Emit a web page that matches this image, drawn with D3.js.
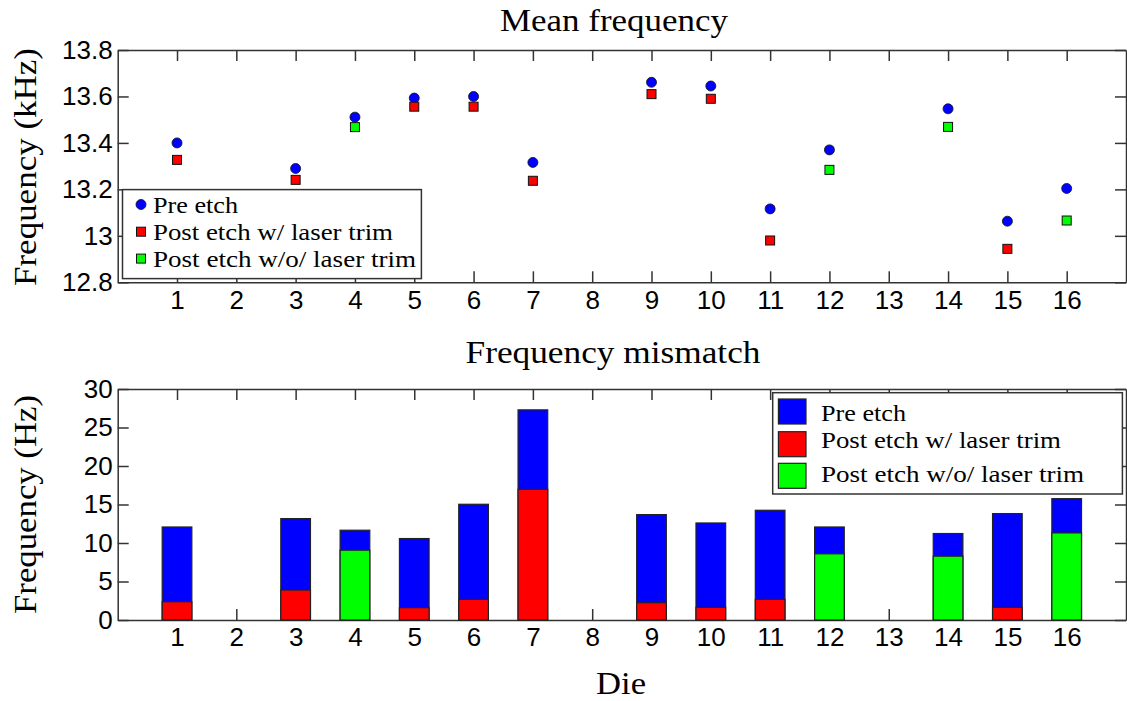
<!DOCTYPE html>
<html>
<head>
<meta charset="utf-8">
<script src="https://cdn.jsdelivr.net/npm/d3@7"></script>
<style>
  html, body { margin: 0; padding: 0; background: #fff; }
  svg { display: block; }
  .tick text { font-family: 'Liberation Sans'; font-size: 26px; fill: #000; }
  .tick line, .domain { stroke: #333; stroke-width: 1.5; }
</style>
</head>
<body>
<svg id="chart" width="1127" height="701"></svg>
<script>
// ---------------- data ----------------
const dies = [1, 2, 3, 4, 5, 6, 7, 8, 9, 10, 11, 12, 13, 14, 15, 16];

// Mean frequency (kHz)
const preEtch      = [13.400, null, 13.290, 13.511, 13.593, 13.600, 13.316, null, 13.661, 13.645, 13.116, 13.370, null, 13.547, 13.063, 13.204];
const postTrim     = [13.327, null, 13.241, null,   13.556, 13.556, 13.237, null, 13.610, 13.590, 12.980, null,   null, null,   12.944, null];
const postNoTrim   = [null,   null, null,   13.468, null,   null,   null,   null, null,   null,   null,   13.284, null, 13.469, null,   13.066];

// Frequency mismatch (Hz)
const preMis       = [12.08, null, 13.17, 11.66, 10.58, 15.03, 27.29, null, 13.69, 12.60, 14.25, 12.08, null, 11.23, 13.82, 15.76];
const postTrimMis  = [2.37,  null, 3.89,  null,  1.60,  2.68,  16.97, null, 2.24,  1.64,  2.68,  null,  null, null,  1.64,  null];
const postNoTrimMis= [null,  null, null,  9.07,  null,  null,  null,  null, null,  null,  null,  8.59,  null, 8.29,  null,  11.31];

const yTopTicks = [12.8, 13.0, 13.2, 13.4, 13.6, 13.8];
const yTopTickLabels = ["12.8", "13", "13.2", "13.4", "13.6", "13.8"];
const yBotTicks = [0, 5, 10, 15, 20, 25, 30];

const seriesNames = ["Pre etch", "Post etch w/ laser trim", "Post etch w/o/ laser trim"];
const seriesColors = ["#0000ff", "#ff0000", "#00ff00"];

// ---------------- layout ----------------
const SERIF = "'Liberation Serif'";
const svg = d3.select("#chart");
const L = 117.7, R = 1126;
const x = d3.scaleLinear().domain([0, 17]).range([L, R]);
const yTop = d3.scaleLinear().domain([12.8, 13.8]).range([282.3, 50]);
const yBot = d3.scaleLinear().domain([0, 30]).range([620, 389]);

function drawAxes(y, yTicks, yFmt) {
  const [yb, yt] = y.range();
  const g = svg.append("g");
  g.append("g").attr("transform", `translate(0,${yb})`)
    .call(d3.axisBottom(x).tickValues(dies).tickFormat(d3.format("d")).tickSize(-11).tickSizeOuter(0).tickPadding(8));
  g.append("g").attr("transform", `translate(0,${yt})`)
    .call(d3.axisTop(x).tickValues(dies).tickFormat("").tickSize(-11).tickSizeOuter(0));
  g.append("g").attr("transform", `translate(${L},0)`)
    .call(d3.axisLeft(y).tickValues(yTicks).tickFormat(yFmt).tickSize(-11).tickSizeOuter(0).tickPadding(5));
  g.append("g").attr("transform", `translate(${R},0)`)
    .call(d3.axisRight(y).tickValues(yTicks).tickFormat("").tickSize(-11).tickSizeOuter(0));
  return g;
}

drawAxes(yTop, yTopTicks, (d, i) => yTopTickLabels[i]);
drawAxes(yBot, yBotTicks, d3.format("d"));

// ---------------- titles / labels ----------------
function serifText(sel, txt, px, len) {
  return sel.append("text")
    .style("font-family", SERIF).style("font-size", px + "px").attr("fill", "#000")
    .attr("textLength", len).attr("lengthAdjust", "spacingAndGlyphs")
    .text(txt);
}
function label(txt, px, tx, ty, len, rot) {
  const t = serifText(svg, txt, px, len).attr("text-anchor", "middle");
  if (rot) t.attr("transform", `translate(${tx},${ty}) rotate(-90)`);
  else t.attr("x", tx).attr("y", ty);
}
label("Mean frequency", 31, 614, 31, 228);
label("Frequency mismatch", 31, 613, 363, 295);
label("Die", 32, 621, 694, 50);
label("Frequency (kHz)", 32, 36, 167, 238, true);
label("Frequency (Hz)", 32, 36, 504.5, 219, true);

// ---------------- top: markers ----------------
const topG = svg.append("g");
function circles(vals, color) {
  topG.selectAll(null).data(dies.map((d, i) => ({ d, v: vals[i] })).filter(o => o.v != null))
    .enter().append("circle")
    .attr("cx", o => x(o.d)).attr("cy", o => yTop(o.v)).attr("r", 5)
    .attr("fill", color).attr("stroke", "#111").attr("stroke-width", 0.8);
}
function squares(vals, color) {
  const s = 9;
  topG.selectAll(null).data(dies.map((d, i) => ({ d, v: vals[i] })).filter(o => o.v != null))
    .enter().append("rect")
    .attr("x", o => x(o.d) - s / 2).attr("y", o => yTop(o.v) - s / 2)
    .attr("width", s).attr("height", s)
    .attr("fill", color).attr("stroke", "#111").attr("stroke-width", 1);
}
circles(preEtch, seriesColors[0]);
squares(postTrim, seriesColors[1]);
squares(postNoTrim, seriesColors[2]);

// top legend
const lg = svg.append("g");
lg.append("rect").attr("x", 122.5).attr("y", 189.6).attr("width", 298.9).attr("height", 89)
  .attr("fill", "#fff").attr("stroke", "#333").attr("stroke-width", 1.5);
const topRows = [204.5, 231.7, 258.6];
const legLens = [85, 240, 263];
lg.append("circle").attr("cx", 141).attr("cy", topRows[0]).attr("r", 5)
  .attr("fill", seriesColors[0]).attr("stroke", "#111").attr("stroke-width", 0.8);
[1, 2].forEach(i => {
  lg.append("rect").attr("x", 141 - 4.5).attr("y", topRows[i] - 4.5).attr("width", 9).attr("height", 9)
    .attr("fill", seriesColors[i]).attr("stroke", "#111").attr("stroke-width", 1);
});
seriesNames.forEach((n, i) => {
  serifText(lg, n, 24, legLens[i]).attr("x", 153).attr("y", topRows[i] + 8.5);
});

// ---------------- bottom: bars ----------------
const bw = x(0.5) - x(0);
const botG = svg.append("g");
function bars(vals, color) {
  botG.selectAll(null).data(dies.map((d, i) => ({ d, v: vals[i] })).filter(o => o.v != null))
    .enter().append("rect")
    .attr("x", o => x(o.d) - bw / 2).attr("y", o => yBot(o.v))
    .attr("width", bw).attr("height", o => yBot(0) - yBot(o.v))
    .attr("fill", color).attr("stroke", "#222").attr("stroke-width", 1.2);
}
bars(preMis, seriesColors[0]);
bars(postTrimMis, seriesColors[1]);
bars(postNoTrimMis, seriesColors[2]);

// bottom legend
const bl = svg.append("g");
bl.append("rect").attr("x", 772.7).attr("y", 392.7).attr("width", 349.7).attr("height", 101.3)
  .attr("fill", "#fff").attr("stroke", "#333").attr("stroke-width", 1.5);
const swY = [399, 431.7, 463.3];
const txtBase = [420.7, 448.3, 482.3];
seriesNames.forEach((n, i) => {
  bl.append("rect").attr("x", 778.4).attr("y", swY[i]).attr("width", 27.6).attr("height", 25)
    .attr("fill", seriesColors[i]).attr("stroke", "#222").attr("stroke-width", 1.2);
  serifText(bl, n, 24, legLens[i]).attr("x", 821).attr("y", txtBase[i]);
});
</script>
</body>
</html>
